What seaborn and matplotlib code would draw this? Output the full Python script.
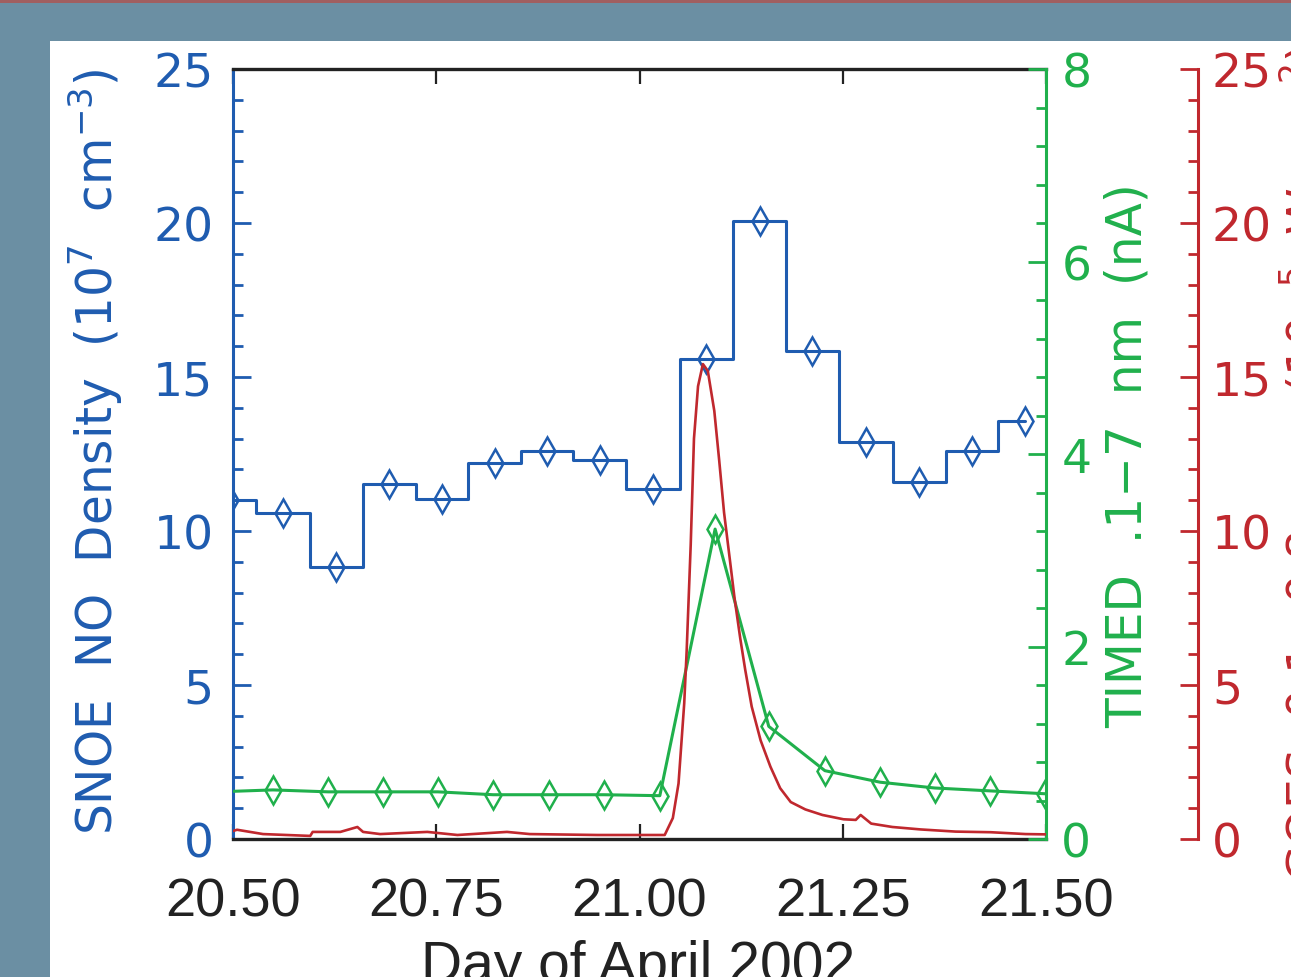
import numpy as np
import pandas as pd
import matplotlib
matplotlib.use("Agg")
import matplotlib.pyplot as plt
import seaborn as sns
from matplotlib.patches import Rectangle
from matplotlib.ticker import MultipleLocator, FormatStrFormatter

# SNOE NO density, one value per orbit (10^7 cm^-3)
snoe_day = [20.496, 20.5615, 20.627, 20.692, 20.757, 20.822, 20.886, 20.951,
            21.017, 21.082, 21.148, 21.212, 21.279, 21.344, 21.409, 21.474]
snoe_density = [11.0, 10.6, 8.83, 11.53, 11.04, 12.2, 12.6, 12.3,
                11.36, 15.58, 20.06, 15.84, 12.9, 11.6, 12.6, 13.57]

# TIMED .1-7 nm current (nA)
timed_day = [20.482, 20.549, 20.617, 20.684, 20.752, 20.820, 20.889, 20.956,
             21.025, 21.093, 21.159, 21.228, 21.296, 21.363, 21.431, 21.499]
timed_current = [0.49, 0.51, 0.49, 0.49, 0.49, 0.46, 0.46, 0.46,
                 0.45, 3.22, 1.17, 0.71, 0.59, 0.53, 0.50, 0.47]

# GOES X-ray flux (10^-5 W m^-2)
goes_day = [20.500, 20.505, 20.537, 20.595, 20.598, 20.632, 20.653, 20.660, 20.681, 20.739,
            20.776, 20.837, 20.865, 20.948, 21.001, 21.031, 21.041, 21.048, 21.055, 21.058,
            21.063, 21.067, 21.072, 21.078, 21.084, 21.092, 21.098, 21.104, 21.111, 21.117,
            21.124, 21.130, 21.138, 21.149, 21.161, 21.173, 21.186, 21.204, 21.225, 21.251,
            21.266, 21.272, 21.285, 21.311, 21.346, 21.389, 21.432, 21.475, 21.500]
goes_flux = [0.26, 0.30, 0.16, 0.10, 0.23, 0.23, 0.39, 0.23, 0.16, 0.23,
             0.13, 0.23, 0.16, 0.13, 0.13, 0.13, 0.68, 1.8, 4.4, 6.1,
             9.56, 13.0, 14.7, 15.42, 15.2, 13.9, 12.3, 10.6, 9.1, 7.8,
             6.5, 5.5, 4.3, 3.2, 2.35, 1.65, 1.2, 0.96, 0.78, 0.64,
             0.62, 0.78, 0.5, 0.39, 0.31, 0.24, 0.22, 0.16, 0.15]

x_ticks = [20.50, 20.75, 21.00, 21.25, 21.50]

BLUE = "#1f5cb0"
GREEN = "#20b04c"
RED = "#c0282e"
BLACK = "#222222"

sns.set_theme(style="white")
plt.rcParams["font.family"] = ["DejaVu Sans"]
plt.rcParams["mathtext.fontset"] = "dejavusans"
narrow = ["Liberation Sans", "DejaVu Sans"]

W, H = 1291, 978
fig = plt.figure(figsize=(W / 100, H / 100), dpi=100, facecolor="#6b8fa3")
fig.add_artist(Rectangle((50 / W, 0), 1, 1 - 42 / H, transform=fig.transFigure,
                         facecolor="white", edgecolor="none", zorder=-10))
fig.add_artist(Rectangle((0, 1 - 4 / H), 1, 4 / H, transform=fig.transFigure,
                         facecolor="#a05f60", edgecolor="none", zorder=-10))

ax = fig.add_axes([233 / W, 1 - 840 / H, 813 / W, 770 / H])
ax_g = ax.twinx()
ax_r = ax.twinx()

sns.lineplot(x=snoe_day, y=snoe_density, ax=ax, color=BLUE, lw=2.2,
             drawstyle="steps-mid", marker="d", markersize=14,
             markerfacecolor="none", markeredgecolor=BLUE, markeredgewidth=1.8,
             sort=False, estimator=None)
sns.lineplot(x=timed_day, y=timed_current, ax=ax_g, color=GREEN, lw=2.2,
             marker="d", markersize=14, markerfacecolor="none",
             markeredgecolor=GREEN, markeredgewidth=1.8,
             sort=False, estimator=None)
sns.lineplot(x=goes_day, y=goes_flux, ax=ax_r, color=RED, lw=1.9,
             sort=False, estimator=None)

ax.set_xlim(20.5, 21.5)
ax.set_ylim(0, 25)
ax_g.set_ylim(0, 8)
ax_r.set_ylim(0, 25)

ax.set_xticks(x_ticks)
ax.xaxis.set_major_formatter(FormatStrFormatter("%.2f"))
ax.yaxis.set_major_locator(MultipleLocator(5))
ax.yaxis.set_minor_locator(MultipleLocator(1))
ax_g.yaxis.set_major_locator(MultipleLocator(2))
ax_g.yaxis.set_minor_locator(MultipleLocator(0.4))
ax_r.yaxis.set_major_locator(MultipleLocator(5))
ax_r.yaxis.set_minor_locator(MultipleLocator(1))

ax.tick_params(axis="x", which="major", direction="in", bottom=True, top=True,
               length=11, width=1.6, color=BLACK, labelcolor=BLACK,
               labelsize=39, pad=27)
for lab in ax.get_xticklabels():
    lab.set_family(narrow)
ax.tick_params(axis="y", which="both", direction="in", left=True, right=False,
               color=BLUE, labelcolor=BLUE, width=2, labelsize=34, pad=14)
ax.tick_params(axis="y", which="major", length=13)
ax.tick_params(axis="y", which="minor", length=7.5)

ax_g.tick_params(axis="y", which="both", direction="in", right=True, left=False,
                 color=GREEN, labelcolor=GREEN, width=2, labelsize=34, pad=11)
ax_g.tick_params(axis="y", which="major", length=13)
ax_g.tick_params(axis="y", which="minor", length=7.5)

ax_r.spines["right"].set_position(("axes", (1198 - 233) / 813))
ax_r.tick_params(axis="y", which="both", direction="in", right=True, left=False,
                 color=RED, labelcolor=RED, width=2, labelsize=34, pad=10)
ax_r.tick_params(axis="y", which="major", length=13)
ax_r.tick_params(axis="y", which="minor", length=7.5)

for side in ["top", "bottom"]:
    ax.spines[side].set_color(BLACK)
    ax.spines[side].set_linewidth(2.4)
ax.spines["left"].set_color(BLUE)
ax.spines["left"].set_linewidth(2.2)
ax.spines["right"].set_visible(False)
for a, c in [(ax_g, GREEN), (ax_r, RED)]:
    for side in ["top", "bottom", "left"]:
        a.spines[side].set_visible(False)
    a.spines["right"].set_color(c)
    a.spines["right"].set_linewidth(2.2)

# wide word spacing like the original plotting font
ax.set_ylabel("SNOE  NO  Density  (10$^7$  cm$^{-3}$)", color=BLUE, fontsize=35)
ax.yaxis.set_label_coords((125 - 233) / 813, 0.504)
ax_g.set_ylabel("TIMED  .1\u22127  nm  (nA)", color=GREEN, fontsize=35)
ax_g.yaxis.set_label_coords((1104 - 233) / 813, 0.499)

# the GOES axis title runs off the right edge, as in the original
fig.text(1278 / W, 1 - 45 / H, "GOES  0.1\u22120.8  nm  (10$^{-5}$  W  m$^{-2}$)",
         rotation=90, ha="left", va="top", color=RED, fontsize=34)
fig.text(638 / W, 1 - 940 / H, "Day of April 2002", ha="center", va="top",
         color=BLACK, fontsize=41, family=narrow)

fig.savefig("out.png", dpi=100, facecolor=fig.get_facecolor())
